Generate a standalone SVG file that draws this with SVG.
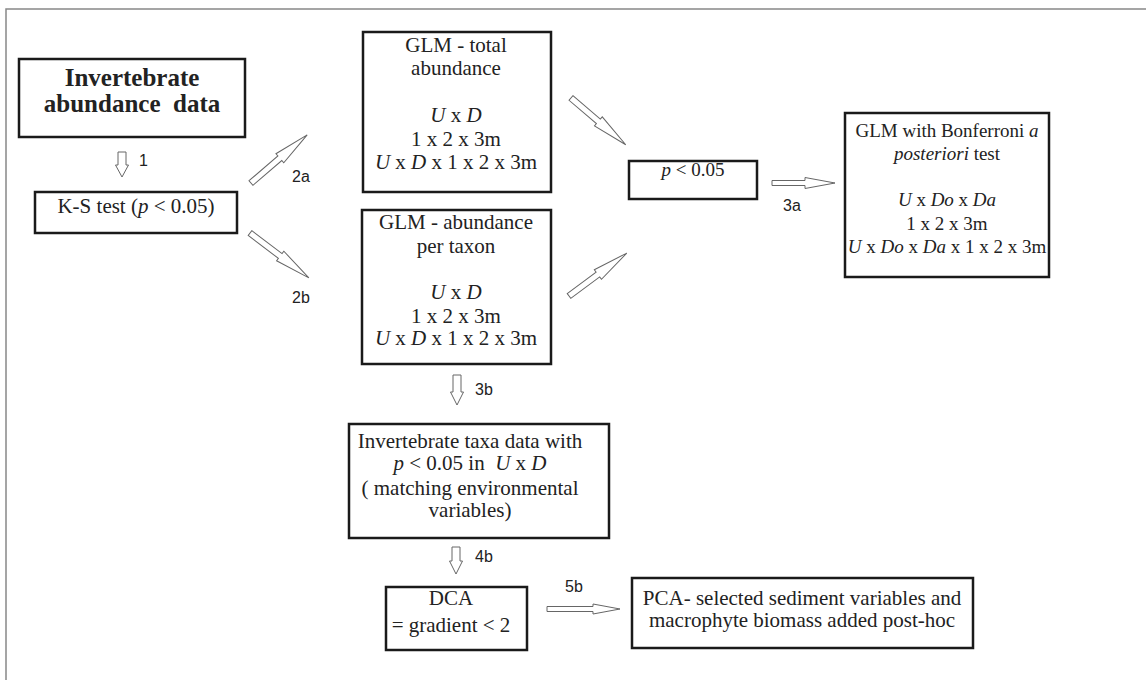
<svg xmlns="http://www.w3.org/2000/svg" width="1146" height="680" viewBox="0 0 1146 680">
<style>
.box{fill:#fff;stroke:#1a1a1a;stroke-width:2.5}
.t{font-family:"Liberation Serif","Times New Roman",serif;font-size:21px;fill:#222;text-anchor:middle}
.s{font-size:19px}
.b{font-weight:bold;font-size:25px;white-space:pre}
.i{font-style:italic}
.arr{fill:#fff;stroke:#666;stroke-width:1}
.lab{font-family:"Liberation Sans",Arial,sans-serif;font-size:16px;fill:#222}
.pre{white-space:pre}
</style>
<rect width="1146" height="680" fill="#fff"/>
<path d="M6,680 L6,9 L1146,9" fill="none" stroke="#888" stroke-width="1.5"/>

<g id="n-invert">
<rect class="box" x="19" y="59" width="226" height="78" stroke-width="3"/>
<text class="t b" x="132" y="86">Invertebrate</text>
<text class="t b" x="132" y="112">abundance  data</text>
</g>

<g id="n-ks">
<rect class="box" x="35" y="192" width="202" height="41"/>
<text class="t" x="136" y="213">K-S test (<tspan class="i">p</tspan> &lt; 0.05)</text>
</g>

<g id="n-glm-total">
<rect class="box" x="363" y="32" width="188" height="160"/>
<text class="t" x="456" y="52">GLM - total</text>
<text class="t" x="456" y="75">abundance</text>
<text class="t" x="456" y="122"><tspan class="i">U</tspan> x <tspan class="i">D</tspan></text>
<text class="t" x="456" y="146">1 x 2 x 3m</text>
<text class="t" x="456" y="169"><tspan class="i">U</tspan> x <tspan class="i">D</tspan> x 1 x 2 x 3m</text>
</g>

<g id="n-glm-taxon">
<rect class="box" x="362" y="210" width="189" height="154"/>
<text class="t" x="456" y="229">GLM - abundance</text>
<text class="t" x="456" y="253">per taxon</text>
<text class="t" x="456" y="299"><tspan class="i">U</tspan> x <tspan class="i">D</tspan></text>
<text class="t" x="456" y="323">1 x 2 x 3m</text>
<text class="t" x="456" y="345"><tspan class="i">U</tspan> x <tspan class="i">D</tspan> x 1 x 2 x 3m</text>
</g>

<g id="n-p">
<rect class="box" x="629" y="161" width="128" height="38"/>
<text class="t s" x="693" y="176"><tspan class="i">p</tspan> &lt; 0.05</text>
</g>

<g id="n-bonf">
<rect class="box" x="845" y="113" width="204" height="164"/>
<text class="t s" x="947" y="137">GLM with Bonferroni <tspan class="i">a</tspan></text>
<text class="t s" x="947" y="160"><tspan class="i">posteriori</tspan> test</text>
<text class="t s" x="947" y="206"><tspan class="i">U</tspan> x <tspan class="i">Do</tspan> x <tspan class="i">Da</tspan></text>
<text class="t s" x="947" y="230">1 x 2 x 3m</text>
<text class="t s" x="947" y="253"><tspan class="i">U</tspan> x <tspan class="i">Do</tspan> x <tspan class="i">Da</tspan> x 1 x 2 x 3m</text>
</g>

<g id="n-taxa">
<rect class="box" x="349" y="424" width="260" height="114"/>
<text class="t" x="470" y="448">Invertebrate taxa data with</text>
<text class="t pre" x="470" y="470"><tspan class="i">p</tspan> &lt; 0.05 in  <tspan class="i">U</tspan> x <tspan class="i">D</tspan></text>
<text class="t" x="470" y="495">( matching environmental</text>
<text class="t" x="470" y="517">variables)</text>
</g>

<g id="n-dca">
<rect class="box" x="386" y="587" width="141" height="63"/>
<text class="t" x="451" y="605">DCA</text>
<text class="t" x="451" y="632">= gradient &lt; 2</text>
</g>

<g id="n-pca">
<rect class="box" x="632" y="578" width="341" height="70"/>
<text class="t" x="802" y="605">PCA- selected sediment variables and</text>
<text class="t" x="802" y="627">macrophyte biomass added post-hoc</text>
</g>

<g id="connectors">
<path class="arr" d="M118,152 L126,152 L126,165 L128.5,165 L122,177 L115.5,165 L118,165 Z"/>
<path class="arr" transform="translate(251,183) rotate(-40.6)" d="M0,-3 L38,-3 L38,-6 L74,0 L38,6 L38,3 L0,3 Z"/>
<path class="arr" transform="translate(250,233) rotate(37.3)" d="M0,-3 L38,-3 L38,-6 L74,0 L38,6 L38,3 L0,3 Z"/>
<path class="arr" transform="translate(571,98) rotate(40.5)" d="M0,-3 L36,-3 L36,-6 L72,0 L36,6 L36,3 L0,3 Z"/>
<path class="arr" transform="translate(569,296) rotate(-36.6)" d="M0,-3 L36,-3 L36,-6 L72,0 L36,6 L36,3 L0,3 Z"/>
<path class="arr" transform="translate(772,183)" d="M0,-2.5 L33,-2.5 L33,-5.5 L63,0 L33,5.5 L33,2.5 L0,2.5 Z"/>
<path class="arr" d="M453,375 L461,375 L461,392 L463.5,392 L457,405 L450.5,392 L453,392 Z"/>
<path class="arr" d="M452,547 L460,547 L460,561 L462.5,561 L456,574 L449.5,561 L452,561 Z"/>
<path class="arr" transform="translate(547,609)" d="M0,-2.5 L46,-2.5 L46,-5 L73,0 L46,5 L46,2.5 L0,2.5 Z"/>
<text class="lab" x="139" y="166">1</text>
<text class="lab" x="292" y="182">2a</text>
<text class="lab" x="292" y="303">2b</text>
<text class="lab" x="783" y="211">3a</text>
<text class="lab" x="475" y="395">3b</text>
<text class="lab" x="475" y="562">4b</text>
<text class="lab" x="565" y="592">5b</text>
</g>
</svg>
